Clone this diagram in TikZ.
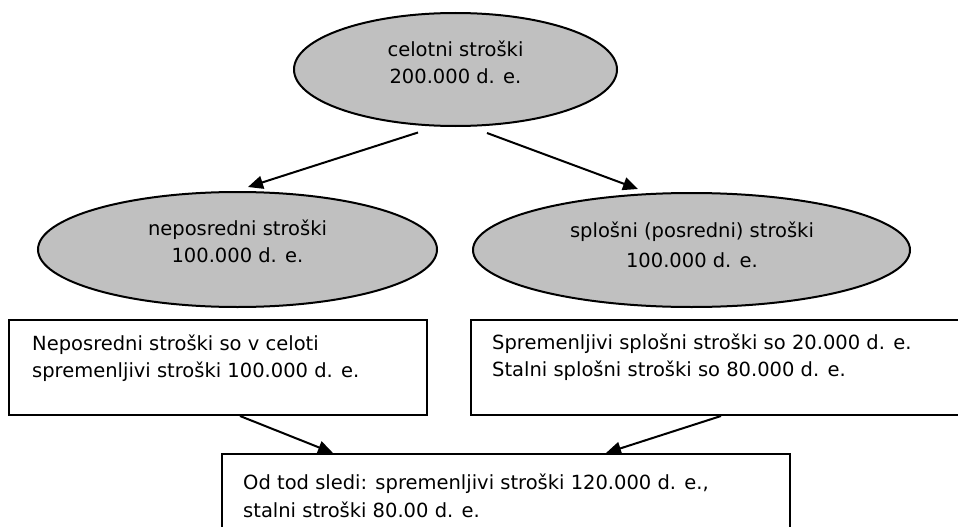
\documentclass[tikz,border=0pt]{standalone}
\usepackage{fontspec}
\setmainfont{DejaVu Sans}
\usetikzlibrary{arrows.meta,calc,shapes.geometric}
\definecolor{silverfill}{RGB}{192,192,192}
\begin{document}
\begin{tikzpicture}[x=1pt,y=-1pt,
  bubble/.style={ellipse,draw=black,line width=2pt,fill=silverfill,inner sep=0pt},
  note/.style={rectangle,draw=black,line width=2pt,inner sep=0pt},
  lbl/.style={font=\fontsize{19.5}{27}\selectfont,inner sep=0pt,anchor=base,align=center},
  lbll/.style={font=\fontsize{19.5}{27}\selectfont,inner sep=0pt,anchor=base west,align=left},
  arr/.style={line width=2pt,-{Triangle[length=15pt,width=13pt]}}]
\useasboundingbox (0,0) rectangle (958,527);
\clip (0,0) rectangle (958,527);

% cost ellipses
\node[bubble,minimum width=323pt,minimum height=113pt] (top) at (455.5,69.5) {};
\node[bubble,minimum width=399pt,minimum height=115pt] (lft) at (237.5,249.5) {};
\node[bubble,minimum width=437pt,minimum height=114pt] (rgt) at (691.5,250) {};

% labels are anchored at the baseline of their last line
\node[lbl] (toptxt) at (455.5,83) {celotni stroški\\200.000 d. e.};
\node[lbl] (lfttxt) at (237.5,262) {neposredni stroški\\100.000 d. e.};
\node[lbl,font=\fontsize{19.5}{30}\selectfont] (rgttxt) at (692,267) {splošni (posredni) stroški\\100.000 d. e.};

% explanation boxes
\node[note,minimum width=418pt,minimum height=95pt] (lbox) at (218,367.5) {};
\node[note,minimum width=489pt,minimum height=95pt] (rbox) at (715.5,367.5) {};
\node[note,minimum width=568pt,minimum height=86pt] (bot) at (506,497) {};

\node[lbll] (lboxtxt) at (32,377) {Neposredni stroški so v celoti\\spremenljivi stroški 100.000 d. e.};
\node[lbll] (rboxtxt) at (492,376) {Spremenljivi splošni stroški so 20.000 d. e.\\Stalni splošni stroški so 80.000 d. e.};
\node[lbll,font=\fontsize{19.5}{28}\selectfont] (bottxt) at (243,517) {Od tod sledi: spremenljivi stroški 120.000 d. e.,\\stalni stroški 80.00 d. e.};

% connectors
\draw[arr] ($(top.south)+(-37.5,5.5)$) -- ($(lft.north)+(10.5,-4)$);
\draw[arr] ($(top.south)+(31.5,6)$) -- ($(rgt.north)+(-53.5,-3)$);
\draw[arr] ($(lbox.south)+(22,0)$) -- ($(bot.north)+(-173,0)$);
\draw[arr] ($(rbox.south)+(5.5,0)$) -- ($(bot.north)+(100,0)$);
\end{tikzpicture}
\end{document}
